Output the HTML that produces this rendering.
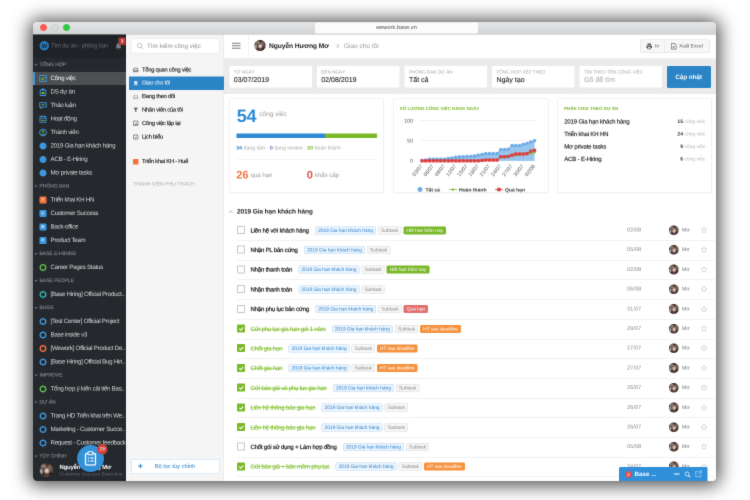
<!DOCTYPE html><html lang="vi"><head><meta charset="utf-8"><title>wework.base.vn</title><style>
*{box-sizing:border-box;margin:0;padding:0}
html,body{width:750px;height:500px;overflow:hidden;background:#fff}
#soft{position:absolute;left:-6px;top:-6px;width:762px;height:512px;background:#fff;filter:url(#softf)}
#pg{position:absolute;left:6px;top:6px;width:750px;height:500px}
body{font-family:"Liberation Sans",sans-serif;position:relative;text-rendering:geometricPrecision}
#win{will-change:transform;position:absolute;left:33.1px;top:21.85px;width:1366px;height:918px;transform:scale(.5);transform-origin:0 0;
 border-radius:8px;box-shadow:0 2px 36px 7px rgba(0,0,0,.7);background:#fff;}
#clip{position:absolute;left:0;top:0;width:1366px;height:918px;border-radius:8px;overflow:hidden;background:#fff}
.abs{position:absolute}
#tb{position:absolute;left:0;top:0;width:100%;height:25px;background:linear-gradient(#e4e5e6,#d3d4d5);border-bottom:1px solid #b8b8b8}
.tl{position:absolute;top:3.8px;width:14px;height:14px;border-radius:50%}
#url{position:absolute;left:564px;top:1px;width:326px;height:22px;background:#fbfbfb;border-radius:4px;font-size:11px;color:#444;text-align:center;line-height:21px;letter-spacing:.2px}
#sb{position:absolute;left:0;top:25px;width:186px;height:893px;background:#25292d;color:#dcddde;font-size:12.4px;letter-spacing:-.53px}
#sbh{position:absolute;left:0;top:0;width:186px;height:47px;background:#1f2226}
.sec{position:absolute;left:13px;height:27px;line-height:28.5px;font-size:10px;color:#858a8f;-webkit-text-stroke:.3px;letter-spacing:-.05px;white-space:nowrap}
.sec:before{content:"";position:absolute;left:-10px;top:12px;border:3px solid transparent;border-top:4px solid #72767a}
.it{position:absolute;left:0;width:186px;height:27px;line-height:27px;white-space:nowrap;overflow:hidden}
.it span{position:absolute;left:35px;top:0}
.it svg,.it i{position:absolute;left:11.5px;top:5.5px;width:16px;height:16px}
.it i.dot{border-radius:50%;background:#3c97e0;left:12.5px;top:6.5px;width:14.5px;height:14.5px}
.it i.ring{border-radius:50%;border:3px solid #3c97e0;left:12.5px;top:6.5px;width:14.5px;height:14.5px}
.it i.sq{border-radius:2px;left:12.5px;top:6.5px;width:14.5px;height:14.5px;font-style:normal;color:#fff;font-size:8px;font-weight:bold;text-align:center;line-height:14.5px;letter-spacing:0}
.it.act{background:linear-gradient(#25292d .7px,#4c5053 .7px);border-left:0}
.it.act:before{content:"";position:absolute;left:0;top:.7px;width:4px;height:26.3px;background:#3c97e0}
.it.act span{left:35px;color:#fff}
.it.act svg{left:11.5px}
#p2{position:absolute;left:186px;top:25px;width:196px;height:893px;background:#f5f5f5;border-right:1px solid #e4e4e4;font-size:11.5px;color:#222}
#srch{position:absolute;left:10px;top:8px;width:177px;height:30px;background:#fff;border:1px solid #e6e6e6;border-radius:3px;color:#909090;font-size:12.5px;line-height:28px;padding-left:31px;white-space:nowrap}
.m{position:absolute;left:6px;width:190px;height:26.5px;line-height:26px;white-space:nowrap;font-size:11.5px;letter-spacing:-.44px;-webkit-text-stroke:.3px;color:#222}
.m span{position:absolute;left:26px}
.m svg{position:absolute;left:7.5px;top:7.5px;width:11px;height:11px}
.m.act{background:#2b84c6;color:#f0f7fd;-webkit-text-stroke:.1px}
#main{position:absolute;left:382px;top:26px;width:985px;height:892px;background:#fff}
#mi{position:absolute;left:2px;top:0;width:983px;height:892px}
#mhbg{position:absolute;left:0;top:-1px;width:985px;height:49px;background:#fff;border-bottom:1px solid #e2e2e2}
#fbbg{position:absolute;left:0;top:48px;width:985px;height:70px;background:#ebebeb}
#mh{position:absolute;left:0;top:-2px;width:983px;height:48px}
#fb{position:absolute;left:0;top:48px;width:983px;height:70px}
.f{position:absolute;top:14px;height:43px;background:#fff;border-radius:2px}
.f b{position:absolute;left:9px;top:7px;font-size:9px;color:#a5a5a5;font-weight:normal;letter-spacing:.1px;white-space:nowrap}
.f u{position:absolute;left:9px;top:19px;font-size:14px;color:#222;text-decoration:none;white-space:nowrap;-webkit-text-stroke:.2px;letter-spacing:.05px}
.card{position:absolute;top:127px;height:189px;background:#fff;border:1px solid #e6e6e6;border-radius:3px;box-shadow:0 1px 2px rgba(0,0,0,.05)}
.g{color:#9a9a9a}
.ct{position:absolute;left:12px;top:14px;font-size:8.8px;font-weight:bold;color:#7ab829;white-space:nowrap;letter-spacing:.1px}
.pr{position:absolute;left:12.5px;font-size:12px;letter-spacing:-.3px;-webkit-text-stroke:.3px;color:#222;white-space:nowrap}
.pc{position:absolute;right:12px;font-size:10px;color:#b5b5b5;white-space:nowrap}
.pc b{color:#333}
.row{position:absolute;left:24px;width:955px;height:40.5px;border-bottom:1px solid #e4e4e4;white-space:nowrap}
.cb{position:absolute;left:0;width:16px;height:16px;border:2px solid #c6c6c6;border-radius:2px;background:#fff}
.cb.on{background:#7ab829;border-color:#7ab829}
.tt{position:absolute;left:27px;font-size:12px;color:#1c1c1c;letter-spacing:-.37px;-webkit-text-stroke:.45px;display:flex;align-items:center;height:39px;top:0}
.tt.done em{color:#85c235;text-decoration:line-through;font-style:normal;-webkit-text-stroke:.3px}
.tt em{font-style:normal;margin-right:12.5px}
.tag{display:inline-block;height:16px;line-height:15.5px;font-size:10px;letter-spacing:-.2px;-webkit-text-stroke:0;font-weight:normal;padding:0 5px;border-radius:3px;margin-right:4px}
.tag.p{background:#eaf4fd;color:#3585cc;border:1px solid #bcd9f3}
.tag.s{background:#f6f6f6;color:#8a8a8a;border:1px solid #dadada}
.tag.gr{background:#7ab829;color:#fff;border:1px solid #7ab829}
.tag.rd{background:#e0706e;color:#fff;border:1px solid #e0706e}
.tag.or{background:#f5923e;color:#fff;border:1px solid #f5923e}
.dt{position:absolute;left:780px;font-size:11px;color:#8a8a8a;line-height:39px;letter-spacing:.2px}
.av{position:absolute;border-radius:50%;overflow:hidden;background:#3b2b27}
.nm{position:absolute;left:890px;font-size:10.5px;color:#777;line-height:39px}
.st{position:absolute;left:926px;top:11px;width:16px;height:16px}
</style></head><body>
<svg width="0" height="0" style="position:absolute"><defs><filter id="softf" x="0" y="0" width="100%" height="100%" color-interpolation-filters="sRGB"><feConvolveMatrix order="3" kernelMatrix="1 8 1 8 64 8 1 8 1" divisor="100" edgeMode="duplicate" preserveAlpha="true"/></filter></defs></svg>
<svg width="0" height="0" style="position:absolute"><defs><filter id="avb" x="-20%" y="-20%" width="140%" height="140%"><feGaussianBlur stdDeviation="1"/></filter><symbol id="avs" viewBox="0 0 20 20"><rect width="20" height="20" fill="#332724"/><g filter="url(#avb)"><ellipse cx="6" cy="4.500" rx="4.500" ry="3" fill="#9a8272"/><ellipse cx="14.500" cy="5.500" rx="3.500" ry="3" fill="#80695b"/><ellipse cx="10.500" cy="3.500" rx="1.500" ry="2.500" fill="#2a201e"/><ellipse cx="2.500" cy="12" rx="1.800" ry="4" fill="#cfc2ba"/><ellipse cx="17" cy="10" rx="1.800" ry="3.500" fill="#7a6457"/><ellipse cx="6" cy="13" rx="2" ry="4.500" fill="#191312"/><ellipse cx="15" cy="14.500" rx="2" ry="3.500" fill="#191312"/><ellipse cx="10.500" cy="11.300" rx="3.200" ry="3.800" fill="#f2cfc6"/><ellipse cx="10.800" cy="14" rx="1.200" ry=".8" fill="#d97c7c"/><ellipse cx="10" cy="19.500" rx="6" ry="2.500" fill="#5d463c"/></g></symbol></defs></svg>
<div id="soft"><div id="pg">
<div id="win"><div id="clip">
<div id="tb"><div class="tl" style="left:13.5px;background:#fc5b57"></div><div class="tl" style="left:36.5px;background:#dadada;border:1.5px solid #bebebe"></div><div class="tl" style="left:59.5px;background:#2fc840"></div><div id="url">wework.base.vn</div></div>
<div id="sb"><div id="sbh">
<svg class="abs" style="left:13px;top:13px" width="19" height="19" viewBox="0 0 19 19"><circle cx="9.5" cy="9.5" r="9.5" fill="#2579b6"/><text x="9.5" y="13.6" font-family="Liberation Sans, sans-serif" font-size="11.5" font-weight="bold" text-anchor="middle" fill="#15202b">W</text></svg>
<div class="abs" style="left:36px;top:13px;font-size:12px;letter-spacing:-.4px;color:#6a6e73;line-height:19px;white-space:nowrap">Tìm dự án - phòng ban</div>
<svg class="abs" style="left:164px;top:16px" width="14" height="15" viewBox="0 0 14 15"><path d="M7 1.500c-2.600 0-4.200 2-4.200 4.500v3L1.300 11.500h11.400L11.200 9V6c0-2.500-1.600-4.500-4.200-4.500zM5.500 12.500a1.500 1.500 0 0 0 3 0z" fill="#7b7f84"/></svg>
<div class="abs" style="left:171px;top:5.5px;width:14px;height:15px;background:#b53a34;border-radius:2px;color:#fff;font-size:9px;font-weight:bold;text-align:center;line-height:14px">3</div>
</div>
<div class="sec" style="top:47.2px">TỔNG HỢP</div>
<div class="it act" style="top:74.2px"><svg viewBox="0 0 17 17"><rect x="1.500" y="2" width="14" height="13" rx="1.500" fill="none" stroke="#3c97e0" stroke-width="2"/><path d="M5 8.500l2.500 2.500 4.500-5" fill="none" stroke="#7ab829" stroke-width="2.300"/></svg><span>Công việc</span></div>
<div class="it" style="top:101.2px"><svg viewBox="0 0 17 17"><rect x="2.500" y="4" width="12" height="12" rx="2" fill="none" stroke="#3c97e0" stroke-width="2"/><rect x="5.500" y="1" width="6" height="4.500" rx="1.500" fill="#3c97e0"/><rect x="5.500" y="8.500" width="6" height="4.500" fill="#7ab829"/></svg><span>DS dự án</span></div>
<div class="it" style="top:128.2px"><svg viewBox="0 0 17 17"><path d="M1.500 2.500h14v9h-8l-3.500 3.500v-3.500h-2.500z" fill="none" stroke="#3c97e0" stroke-width="2" stroke-linejoin="round"/><path d="M5 7h7" stroke="#7ab829" stroke-width="2.200"/></svg><span>Thảo luận</span></div>
<div class="it" style="top:155.2px"><svg viewBox="0 0 17 17"><rect x="2" y="3.500" width="13" height="12" rx="1.500" fill="none" stroke="#3c97e0" stroke-width="2"/><path d="M5.500 1v4M11.500 1v4" stroke="#3c97e0" stroke-width="2.200"/><path d="M2 7h13" stroke="#3c97e0" stroke-width="1.500"/><path d="M5 11.500h7" stroke="#7ab829" stroke-width="2.400"/></svg><span>Hoạt động</span></div>
<div class="it" style="top:182.2px"><svg viewBox="0 0 17 17"><circle cx="8.500" cy="8.500" r="7" fill="none" stroke="#3c97e0" stroke-width="2.100"/><circle cx="8.500" cy="6.500" r="2.300" fill="#7ab829"/><path d="M4.500 13q4-5 8 0z" fill="#7ab829"/></svg><span>Thành viên</span></div>
<div class="it" style="top:209.2px"><i class="dot"></i><span>2019 Gia hạn khách hàng</span></div>
<div class="it" style="top:236.2px"><i class="dot"></i><span>ACB - E-Hiring</span></div>
<div class="it" style="top:263.2px"><i class="dot"></i><span>Mơ private tasks</span></div>
<div class="sec" style="top:290.2px">PHÒNG BAN</div>
<div class="it" style="top:317.2px"><i class="sq" style="background:#f4743b">T</i><span>Triển khai KH HN</span></div>
<div class="it" style="top:344.2px"><i class="sq" style="background:#3c97e0">C</i><span>Customer Success</span></div>
<div class="it" style="top:371.2px"><i class="sq" style="background:#3c97e0">B</i><span>Back-office</span></div>
<div class="it" style="top:398.2px"><i class="sq" style="background:#3c97e0">P</i><span>Product Team</span></div>
<div class="sec" style="top:425.2px">BASE E-HIRING</div>
<div class="it" style="top:452.2px"><i class="ring" style="border-color:#5cc04a"></i><span>Career Pages Status</span></div>
<div class="sec" style="top:479.2px">BASE PEOPLE</div>
<div class="it" style="top:506.2px"><i class="ring" style="border-color:#2fb5b0"></i><span>[Base Hiring] Official Product..</span></div>
<div class="sec" style="top:533.2px">BUGS</div>
<div class="it" style="top:560.2px"><i class="ring"></i><span>[Test Center] Official Project</span></div>
<div class="it" style="top:587.2px"><i class="ring"></i><span>Base inside v3</span></div>
<div class="it" style="top:614.2px"><i class="ring" style="border-color:#f4743b"></i><span>[Wework] Official Product De..</span></div>
<div class="it" style="top:641.2px"><i class="ring"></i><span>[Base Hiring] Official Bug Hiri..</span></div>
<div class="sec" style="top:668.2px">IMPROVE</div>
<div class="it" style="top:695.2px"><i class="ring" style="border-color:#5cc04a"></i><span>Tổng hợp ý kiến cải tiến Bas..</span></div>
<div class="sec" style="top:722.2px">DỰ ÁN</div>
<div class="it" style="top:749.2px"><i class="ring"></i><span>Trang HD Triển khai trên We..</span></div>
<div class="it" style="top:776.2px"><i class="ring"></i><span>Marketing - Customer Succe..</span></div>
<div class="it" style="top:803.2px"><i class="ring"></i><span>Request - Customer feedback</span></div>
<div class="sec" style="top:830.2px">TÙY CHỈNH</div>
<div class="av" style="left:13px;top:857px;width:28px;height:28px;"><svg viewBox="0 0 20 20" width="28" height="28"><use href="#avs"/></svg></div>
<div class="abs" style="left:53px;top:858px;font-size:12px;letter-spacing:-.45px;font-weight:bold;color:#fff;white-space:nowrap">Nguyễn Hương Mơ</div>
<div class="abs" style="left:53px;top:874px;font-size:9.7px;letter-spacing:0;color:#666a6f;white-space:nowrap">Customer Success Executive</div>
<div class="abs" style="left:88px;top:821px;width:54px;height:54px;border-radius:50%;background:#3391d8;box-shadow:0 1px 4px rgba(0,0,0,.4)"><svg class="abs" style="left:15px;top:12px" width="24" height="30" viewBox="0 0 24 30"><rect x="2" y="5" width="20" height="23" rx="2.500" fill="none" stroke="#fff" stroke-width="2.600"/><rect x="7" y="1.500" width="10" height="6" rx="1.500" fill="#2f8fd8" stroke="#fff" stroke-width="2.200"/><path d="M6.500 14h3M12 14h6M6.500 20h3M12 20h6" stroke="#fff" stroke-width="2.400"/></svg></div>
<div class="abs" style="left:128px;top:818.5px;width:21px;height:21px;border-radius:50%;background:#cf403d;color:#fad4d2;font-size:10px;font-weight:bold;letter-spacing:0;text-align:center;line-height:21px">29</div>
</div>
<div id="p2">
<div id="srch"><svg class="abs" style="left:10px;top:7px" width="14" height="14" viewBox="0 0 14 14"><circle cx="6" cy="6" r="4.300" fill="none" stroke="#aaa" stroke-width="1.300"/><path d="M9.200 9.200l3.300 3.300" stroke="#aaa" stroke-width="1.300"/></svg>Tìm kiếm công việc</div>
<div class="m" style="top:57.5px"><svg viewBox="0 0 12 12"><path d="M1 7l1.500-4.500h7L11 7v3.500H1z" fill="none" stroke="#555" stroke-width="1.300"/><path d="M1 7h3l.8 1.500h2.400L8 7h3" fill="none" stroke="#555" stroke-width="1.300"/></svg><span>Tổng quan công việc</span></div>
<div class="m act" style="top:84.3px"><svg viewBox="0 0 12 12"><path d="M2.500 1h7v10.500L6 8.500l-3.500 3z" fill="#cfe5f7"/></svg><span>Giao cho tôi</span></div>
<div class="m" style="top:111.1px"><svg viewBox="0 0 12 12"><path d="M1 7l1.500-4.500h7L11 7v3.500H1z" fill="none" stroke="#9a9a9a" stroke-width="1.200"/><path d="M1 7h10" stroke="#9a9a9a" stroke-width="1.200"/></svg><span>Đang theo dõi</span></div>
<div class="m" style="top:137.9px"><svg viewBox="0 0 12 12"><path d="M1 1.500h10L7.300 6v5l-2.600-1V6z" fill="#555"/></svg><span>Nhân viên của tôi</span></div>
<div class="m" style="top:164.70000000000002px"><svg viewBox="0 0 12 12"><rect x="1.200" y="1.200" width="9.600" height="9.600" fill="none" stroke="#555" stroke-width="1.300"/><path d="M3 9l2.500-3 1.500 1.500L9 5v4z" fill="#555"/></svg><span>Công việc lặp lại</span></div>
<div class="m" style="top:191.50000000000003px"><svg viewBox="0 0 12 12"><rect x="1.200" y="2.200" width="9.600" height="8.800" rx="1" fill="none" stroke="#555" stroke-width="1.300"/><path d="M3.500 .5v3M8.500 .5v3M4 7.500l1.500 1.500L8.500 6" fill="none" stroke="#555" stroke-width="1.100"/></svg><span>Lịch biểu</span></div>
<div class="m" style="top:241px"><i class="abs" style="left:8px;top:8px;width:10.500px;height:10.500px;background:#f4743b;border-radius:1px"></i><span>Triển khai KH - Huế</span></div>
<div class="abs" style="left:14px;top:294px;font-size:10px;color:#a9a9a9;letter-spacing:.1px;white-space:nowrap">THÀNH VIÊN PHỤ TRÁCH</div>
<div class="abs" style="left:9.5px;top:849px;width:178.5px;height:30px;background:#fff;border:1px solid #bcd6ed;border-radius:3px;color:#2b84c6;font-size:11.5px;line-height:28px;white-space:nowrap"><span class="abs" style="left:13px;top:-1px;font-size:18px;font-weight:bold">+</span><span class="abs" style="left:47px">Bộ lọc tùy chỉnh</span></div>
</div>
<div id="main"><div id="mhbg"></div><div id="fbbg"></div><div id="mi">
<div id="mh">
<svg class="abs" style="left:14px;top:17px" width="17" height="13" viewBox="0 0 17 13"><path d="M0 1.500h17M0 6.500h17M0 11.500h17" stroke="#7c7c7c" stroke-width="2"/></svg>
<div class="abs" style="left:47px;top:0;width:1px;height:48px;background:#e6e6e6"></div>
<div class="av" style="left:58.5px;top:12px;width:22px;height:22px;"><svg viewBox="0 0 20 20" width="22" height="22"><use href="#avs"/></svg></div>
<div class="abs" style="left:88px;top:14px;font-size:13.5px;letter-spacing:-.25px;font-weight:bold;color:#222;line-height:20px;white-space:nowrap">Nguyễn Hương Mơ</div>
<svg class="abs" style="left:222px;top:19px" width="7" height="10" viewBox="0 0 7 10"><path d="M1.500 1l4 4-4 4" fill="none" stroke="#aaa" stroke-width="1.400"/></svg>
<div class="abs" style="left:238px;top:14px;font-size:13px;color:#999;line-height:20px;white-space:nowrap">Giao cho tôi</div>
<div class="abs" style="left:830px;top:11px;width:140px;height:27px;border:1px solid #dedede;border-radius:3px;background:#f7f7f7"><div class="abs" style="left:48px;top:0;width:1px;height:25px;background:#dedede"></div><svg class="abs" style="left:11px;top:6px" width="13" height="13" viewBox="0 0 13 13"><path d="M3 1h7v3H3zM1 5h11v5h-2v2.500H3V10H1z" fill="#555"/><rect x="4.200" y="8" width="4.600" height="3.300" fill="#f7f7f7"/></svg><span class="abs" style="left:29px;top:0;font-size:10px;color:#555;line-height:25px">In</span><svg class="abs" style="left:61px;top:6px" width="11" height="13" viewBox="0 0 11 13"><path d="M1 .8h6l3.200 3.200v8.200H1z" fill="none" stroke="#555" stroke-width="1.200"/><path d="M3.500 6l3.500 4M7 6l-3.500 4" stroke="#555" stroke-width="1.100"/></svg><span class="abs" style="left:77px;top:0;font-size:10px;color:#555;line-height:25px;white-space:nowrap">Xuất Excel</span></div>
</div>
<div id="fb">
<div class="f" style="left:8.5px;width:165px"><b>TỪ NGÀY</b><u style="color:#222">03/07/2019</u></div>
<div class="f" style="left:183.5px;width:165px"><b>ĐẾN NGÀY</b><u style="color:#222">02/08/2019</u></div>
<div class="f" style="left:359px;width:165px"><b>PHÒNG BAN DỰ ÁN</b><u style="color:#222">Tất cả</u></div>
<div class="f" style="left:534px;width:165px"><b>TỔNG HỢP XẾP THEO</b><u style="color:#222">Ngày tạo</u></div>
<div class="f" style="left:709px;width:165px"><b>TÌM THEO TÊN CÔNG VIỆC</b><u style="color:#b0b0b0">Gõ để tìm</u></div>
<div class="abs" style="left:883.5px;top:14px;width:88px;height:44px;background:#2b84c6;border-radius:3px;color:#fff;font-size:12.5px;font-weight:bold;text-align:center;line-height:44px">Cập nhật</div>
</div>
<div class="card" style="left:8.5px;width:309px">
<div class="abs" style="left:14px;top:15.5px;font-size:36px;font-weight:bold;color:#2d8ad3;line-height:36px;letter-spacing:-.5px">54</div>
<div class="abs g" style="left:59px;top:22px;font-size:13px;white-space:nowrap">công việc</div>
<div class="abs" style="left:13px;top:69px;width:281px;height:9px;background:#7ab829"><div style="width:177px;height:9px;background:#2d8ad3"></div></div>
<div class="abs g" style="left:13px;top:91.5px;font-size:10.5px;white-space:nowrap;color:#a8a8a8"><b style="color:#2b84c6">34</b> đang làm · <b style="color:#8e5bb5">0</b> đang review · <b style="color:#7ab829">20</b> hoàn thành</div>
<div class="abs" style="left:13px;top:120px;width:282px;height:1px;background:#ececec"></div>
<div class="abs" style="left:13px;top:140px;font-size:22px;font-weight:bold;color:#f4743b;line-height:24px">26</div>
<div class="abs g" style="left:42px;top:145px;font-size:12px;white-space:nowrap">quá hạn</div>
<div class="abs" style="left:154px;top:140px;font-size:22px;font-weight:bold;color:#d9534f;line-height:24px">0</div>
<div class="abs g" style="left:170px;top:145px;font-size:12px;white-space:nowrap">khẩn cấp</div>
</div>
<div class="card" style="left:336.500px;width:310px">
<div class="ct">SỐ LƯỢNG CÔNG VIỆC HÀNG NGÀY</div>
<svg class="abs" style="left:0;top:0" width="310" height="189" viewBox="0 0 310 189" font-family="Liberation Sans, sans-serif"><path d="M52 123.7H286" stroke="#e8e8e8" stroke-width="1"/><text x="38" y="127.2" font-size="10.500" fill="#555" text-anchor="end">0</text><path d="M52 83.4H286" stroke="#e8e8e8" stroke-width="1"/><text x="38" y="86.9" font-size="10.500" fill="#555" text-anchor="end">50</text><path d="M52 43.1H286" stroke="#e8e8e8" stroke-width="1"/><text x="38" y="46.6" font-size="10.500" fill="#555" text-anchor="end">100</text><polygon points="56.0,123.7 56.0,122.9 63.5,122.1 71.0,120.5 78.5,120.5 86.0,120.5 93.5,120.5 101.0,120.5 108.5,118.9 116.0,118.1 123.5,116.4 131.0,115.6 138.5,115.6 146.0,114.8 153.5,114.8 161.0,114.0 168.5,112.4 176.0,110.8 183.5,109.2 191.0,109.2 198.5,109.2 206.0,109.2 213.5,101.1 221.0,101.1 228.5,100.3 236.0,93.1 243.5,93.1 251.0,93.1 258.5,90.7 266.0,89.0 273.5,85.8 281.0,83.4 281.0,123.7" fill="#98c5ee"/><polyline points="56.0,122.9 63.5,122.1 71.0,120.5 78.5,120.5 86.0,120.5 93.5,120.5 101.0,120.5 108.5,118.9 116.0,118.1 123.5,116.4 131.0,115.6 138.5,115.6 146.0,114.8 153.5,114.8 161.0,114.0 168.5,112.4 176.0,110.8 183.5,109.2 191.0,109.2 198.5,109.2 206.0,109.2 213.5,101.1 221.0,101.1 228.5,100.3 236.0,93.1 243.5,93.1 251.0,93.1 258.5,90.7 266.0,89.0 273.5,85.8 281.0,83.4" fill="none" stroke="#6fabe6" stroke-width="1.500"/><circle cx="56.0" cy="122.9" r="3.400" fill="#6fabe6"/><circle cx="63.5" cy="122.1" r="3.400" fill="#6fabe6"/><circle cx="71.0" cy="120.5" r="3.400" fill="#6fabe6"/><circle cx="78.5" cy="120.5" r="3.400" fill="#6fabe6"/><circle cx="86.0" cy="120.5" r="3.400" fill="#6fabe6"/><circle cx="93.5" cy="120.5" r="3.400" fill="#6fabe6"/><circle cx="101.0" cy="120.5" r="3.400" fill="#6fabe6"/><circle cx="108.5" cy="118.9" r="3.400" fill="#6fabe6"/><circle cx="116.0" cy="118.1" r="3.400" fill="#6fabe6"/><circle cx="123.5" cy="116.4" r="3.400" fill="#6fabe6"/><circle cx="131.0" cy="115.6" r="3.400" fill="#6fabe6"/><circle cx="138.5" cy="115.6" r="3.400" fill="#6fabe6"/><circle cx="146.0" cy="114.8" r="3.400" fill="#6fabe6"/><circle cx="153.5" cy="114.8" r="3.400" fill="#6fabe6"/><circle cx="161.0" cy="114.0" r="3.400" fill="#6fabe6"/><circle cx="168.5" cy="112.4" r="3.400" fill="#6fabe6"/><circle cx="176.0" cy="110.8" r="3.400" fill="#6fabe6"/><circle cx="183.5" cy="109.2" r="3.400" fill="#6fabe6"/><circle cx="191.0" cy="109.2" r="3.400" fill="#6fabe6"/><circle cx="198.5" cy="109.2" r="3.400" fill="#6fabe6"/><circle cx="206.0" cy="109.2" r="3.400" fill="#6fabe6"/><circle cx="213.5" cy="101.1" r="3.400" fill="#6fabe6"/><circle cx="221.0" cy="101.1" r="3.400" fill="#6fabe6"/><circle cx="228.5" cy="100.3" r="3.400" fill="#6fabe6"/><circle cx="236.0" cy="93.1" r="3.400" fill="#6fabe6"/><circle cx="243.5" cy="93.1" r="3.400" fill="#6fabe6"/><circle cx="251.0" cy="93.1" r="3.400" fill="#6fabe6"/><circle cx="258.5" cy="90.7" r="3.400" fill="#6fabe6"/><circle cx="266.0" cy="89.0" r="3.400" fill="#6fabe6"/><circle cx="273.5" cy="85.8" r="3.400" fill="#6fabe6"/><circle cx="281.0" cy="83.4" r="3.400" fill="#6fabe6"/><polyline points="56.0,123.7 63.5,123.7 71.0,123.7 78.5,123.7 86.0,123.7 93.5,123.7 101.0,123.7 108.5,123.7 116.0,123.7 123.5,123.7 131.0,123.7 138.5,123.7 146.0,123.7 153.5,123.7 161.0,123.7 168.5,123.7 176.0,122.9 183.5,122.1 191.0,122.1 198.5,122.1 206.0,122.1 213.5,116.4 221.0,116.4 228.5,115.6 236.0,114.0 243.5,112.4 251.0,111.6 258.5,110.8 266.0,110.0 273.5,108.4 281.0,106.8" fill="none" stroke="#7ab829" stroke-width="1.500"/><path d="M53.0 123.7l3-3 3 3-3 3z" fill="#7ab829"/><path d="M60.5 123.7l3-3 3 3-3 3z" fill="#7ab829"/><path d="M68.0 123.7l3-3 3 3-3 3z" fill="#7ab829"/><path d="M75.5 123.7l3-3 3 3-3 3z" fill="#7ab829"/><path d="M83.0 123.7l3-3 3 3-3 3z" fill="#7ab829"/><path d="M90.5 123.7l3-3 3 3-3 3z" fill="#7ab829"/><path d="M98.0 123.7l3-3 3 3-3 3z" fill="#7ab829"/><path d="M105.5 123.7l3-3 3 3-3 3z" fill="#7ab829"/><path d="M113.0 123.7l3-3 3 3-3 3z" fill="#7ab829"/><path d="M120.5 123.7l3-3 3 3-3 3z" fill="#7ab829"/><path d="M128.0 123.7l3-3 3 3-3 3z" fill="#7ab829"/><path d="M135.5 123.7l3-3 3 3-3 3z" fill="#7ab829"/><path d="M143.0 123.7l3-3 3 3-3 3z" fill="#7ab829"/><path d="M150.5 123.7l3-3 3 3-3 3z" fill="#7ab829"/><path d="M158.0 123.7l3-3 3 3-3 3z" fill="#7ab829"/><path d="M165.5 123.7l3-3 3 3-3 3z" fill="#7ab829"/><path d="M173.0 122.9l3-3 3 3-3 3z" fill="#7ab829"/><path d="M180.5 122.1l3-3 3 3-3 3z" fill="#7ab829"/><path d="M188.0 122.1l3-3 3 3-3 3z" fill="#7ab829"/><path d="M195.5 122.1l3-3 3 3-3 3z" fill="#7ab829"/><path d="M203.0 122.1l3-3 3 3-3 3z" fill="#7ab829"/><path d="M210.5 116.4l3-3 3 3-3 3z" fill="#7ab829"/><path d="M218.0 116.4l3-3 3 3-3 3z" fill="#7ab829"/><path d="M225.5 115.6l3-3 3 3-3 3z" fill="#7ab829"/><path d="M233.0 114.0l3-3 3 3-3 3z" fill="#7ab829"/><path d="M240.5 112.4l3-3 3 3-3 3z" fill="#7ab829"/><path d="M248.0 111.6l3-3 3 3-3 3z" fill="#7ab829"/><path d="M255.5 110.8l3-3 3 3-3 3z" fill="#7ab829"/><path d="M263.0 110.0l3-3 3 3-3 3z" fill="#7ab829"/><path d="M270.5 108.4l3-3 3 3-3 3z" fill="#7ab829"/><path d="M278.0 106.8l3-3 3 3-3 3z" fill="#7ab829"/><polyline points="56.0,123.7 63.5,123.7 71.0,123.7 78.5,123.7 86.0,123.7 93.5,123.7 101.0,123.7 108.5,123.7 116.0,123.7 123.5,123.7 131.0,123.7 138.5,123.7 146.0,123.7 153.5,123.7 161.0,123.7 168.5,123.7 176.0,122.9 183.5,122.1 191.0,122.1 198.5,122.1 206.0,122.1 213.5,115.6 221.0,115.6 228.5,114.8 236.0,112.4 243.5,110.0 251.0,110.0 258.5,110.0 266.0,109.2 273.5,104.4 281.0,102.7" fill="none" stroke="#dc3d3d" stroke-width="1.500"/><rect x="52.8" y="120.5" width="6.400" height="6.400" fill="#dc3d3d"/><rect x="60.3" y="120.5" width="6.400" height="6.400" fill="#dc3d3d"/><rect x="67.8" y="120.5" width="6.400" height="6.400" fill="#dc3d3d"/><rect x="75.3" y="120.5" width="6.400" height="6.400" fill="#dc3d3d"/><rect x="82.8" y="120.5" width="6.400" height="6.400" fill="#dc3d3d"/><rect x="90.3" y="120.5" width="6.400" height="6.400" fill="#dc3d3d"/><rect x="97.8" y="120.5" width="6.400" height="6.400" fill="#dc3d3d"/><rect x="105.3" y="120.5" width="6.400" height="6.400" fill="#dc3d3d"/><rect x="112.8" y="120.5" width="6.400" height="6.400" fill="#dc3d3d"/><rect x="120.3" y="120.5" width="6.400" height="6.400" fill="#dc3d3d"/><rect x="127.8" y="120.5" width="6.400" height="6.400" fill="#dc3d3d"/><rect x="135.3" y="120.5" width="6.400" height="6.400" fill="#dc3d3d"/><rect x="142.8" y="120.5" width="6.400" height="6.400" fill="#dc3d3d"/><rect x="150.3" y="120.5" width="6.400" height="6.400" fill="#dc3d3d"/><rect x="157.8" y="120.5" width="6.400" height="6.400" fill="#dc3d3d"/><rect x="165.3" y="120.5" width="6.400" height="6.400" fill="#dc3d3d"/><rect x="172.8" y="119.7" width="6.400" height="6.400" fill="#dc3d3d"/><rect x="180.3" y="118.9" width="6.400" height="6.400" fill="#dc3d3d"/><rect x="187.8" y="118.9" width="6.400" height="6.400" fill="#dc3d3d"/><rect x="195.3" y="118.9" width="6.400" height="6.400" fill="#dc3d3d"/><rect x="202.8" y="118.9" width="6.400" height="6.400" fill="#dc3d3d"/><rect x="210.3" y="112.4" width="6.400" height="6.400" fill="#dc3d3d"/><rect x="217.8" y="112.4" width="6.400" height="6.400" fill="#dc3d3d"/><rect x="225.3" y="111.6" width="6.400" height="6.400" fill="#dc3d3d"/><rect x="232.8" y="109.2" width="6.400" height="6.400" fill="#dc3d3d"/><rect x="240.3" y="106.8" width="6.400" height="6.400" fill="#dc3d3d"/><rect x="247.8" y="106.8" width="6.400" height="6.400" fill="#dc3d3d"/><rect x="255.3" y="106.8" width="6.400" height="6.400" fill="#dc3d3d"/><rect x="262.8" y="106.0" width="6.400" height="6.400" fill="#dc3d3d"/><rect x="270.3" y="101.2" width="6.400" height="6.400" fill="#dc3d3d"/><rect x="277.8" y="99.5" width="6.400" height="6.400" fill="#dc3d3d"/><text transform="translate(57.5,134.7) rotate(-52)" font-size="10.500" fill="#555" text-anchor="end">03/07</text><text transform="translate(80.0,134.7) rotate(-52)" font-size="10.500" fill="#555" text-anchor="end">06/07</text><text transform="translate(102.5,134.7) rotate(-52)" font-size="10.500" fill="#555" text-anchor="end">09/07</text><text transform="translate(125.0,134.7) rotate(-52)" font-size="10.500" fill="#555" text-anchor="end">12/07</text><text transform="translate(147.5,134.7) rotate(-52)" font-size="10.500" fill="#555" text-anchor="end">15/07</text><text transform="translate(170.0,134.7) rotate(-52)" font-size="10.500" fill="#555" text-anchor="end">18/07</text><text transform="translate(192.5,134.7) rotate(-52)" font-size="10.500" fill="#555" text-anchor="end">21/07</text><text transform="translate(215.0,134.7) rotate(-52)" font-size="10.500" fill="#555" text-anchor="end">24/07</text><text transform="translate(237.5,134.7) rotate(-52)" font-size="10.500" fill="#555" text-anchor="end">27/07</text><text transform="translate(260.0,134.7) rotate(-52)" font-size="10.500" fill="#555" text-anchor="end">30/07</text><text transform="translate(282.5,134.7) rotate(-52)" font-size="10.500" fill="#555" text-anchor="end">02/08</text><circle cx="52" cy="181" r="5" fill="#6fabe6"/><text x="63" y="184.500" font-size="10" font-weight="bold" fill="#333">Tất cả</text><path d="M110 181h16" stroke="#7ab829" stroke-width="1.500"/><path d="M115 181l3-3 3 3-3 3z" fill="#7ab829"/><text x="130" y="184.500" font-size="10" font-weight="bold" fill="#333">Hoàn thành</text><path d="M202 181h16" stroke="#dc3d3d" stroke-width="1.500"/><rect x="206.500" y="177.500" width="7" height="7" fill="#dc3d3d"/><text x="222" y="184.500" font-size="10" font-weight="bold" fill="#333">Quá hạn</text></svg>
</div>
<div class="card" style="left:665px;width:309px">
<div class="ct">PHÂN CHIA THEO DỰ ÁN</div>
<div class="pr" style="top:38px">2019 Gia hạn khách hàng</div><div class="pc" style="top:40px"><b>15</b> công việc</div>
<div class="pr" style="top:63.1px">Triển khai KH HN</div><div class="pc" style="top:65.1px"><b>24</b> công việc</div>
<div class="pr" style="top:88.2px">Mơ private tasks</div><div class="pc" style="top:90.2px"><b>9</b> công việc</div>
<div class="pr" style="top:113.30000000000001px">ACB - E-Hiring</div><div class="pc" style="top:115.30000000000001px"><b>6</b> công việc</div>
</div>
<svg class="abs" style="left:7px;top:350px" width="9" height="7" viewBox="0 0 9 7"><path d="M1 5.500l3.500-3.500 3.500 3.500" fill="none" stroke="#aaa" stroke-width="1.300"/></svg>
<div class="abs" style="left:24px;top:344px;font-size:13px;letter-spacing:-.2px;font-weight:bold;color:#222;white-space:nowrap;line-height:18px">2019 Gia hạn khách hàng</div>
<div class="row" style="top:371.0px"><div class="cb" style="top:11px"></div><div class="tt"><em>Liên hệ với khách hàng</em><span class="tag p">2019 Gia hạn khách hàng</span><span class="tag s">Subtask</span><span class="tag gr">Hết hạn hôm nay</span></div><div class="dt">02/08</div><div class="av" style="left:863.5px;top:9.5px;width:19.5px;height:19.5px;"><svg viewBox="0 0 20 20" width="19.5" height="19.5"><use href="#avs"/></svg></div><div class="nm">Mơ</div><svg class="st" viewBox="0 0 24 24"><path d="M12 3.5l2.6 5.6 6 .8-4.4 4.2 1.1 6-5.3-3-5.3 3 1.1-6L3.400 9.900l6-.8z" fill="none" stroke="#c8c8c8" stroke-width="1.6" stroke-linejoin="round"/></svg></div>
<div class="row" style="top:410.4px"><div class="cb" style="top:11px"></div><div class="tt"><em>Nhận PL bản cứng</em><span class="tag p">2019 Gia hạn khách hàng</span><span class="tag s">Subtask</span></div><div class="dt">05/08</div><div class="av" style="left:863.5px;top:9.5px;width:19.5px;height:19.5px;"><svg viewBox="0 0 20 20" width="19.5" height="19.5"><use href="#avs"/></svg></div><div class="nm">Mơ</div><svg class="st" viewBox="0 0 24 24"><path d="M12 3.5l2.6 5.6 6 .8-4.4 4.2 1.1 6-5.3-3-5.3 3 1.1-6L3.400 9.900l6-.8z" fill="none" stroke="#c8c8c8" stroke-width="1.6" stroke-linejoin="round"/></svg></div>
<div class="row" style="top:449.8px"><div class="cb" style="top:11px"></div><div class="tt"><em>Nhận thanh toán</em><span class="tag p">2019 Gia hạn khách hàng</span><span class="tag s">Subtask</span><span class="tag gr">Hết hạn hôm nay</span></div><div class="dt">02/08</div><div class="av" style="left:863.5px;top:9.5px;width:19.5px;height:19.5px;"><svg viewBox="0 0 20 20" width="19.5" height="19.5"><use href="#avs"/></svg></div><div class="nm">Mơ</div><svg class="st" viewBox="0 0 24 24"><path d="M12 3.5l2.6 5.6 6 .8-4.4 4.2 1.1 6-5.3-3-5.3 3 1.1-6L3.400 9.900l6-.8z" fill="none" stroke="#c8c8c8" stroke-width="1.6" stroke-linejoin="round"/></svg></div>
<div class="row" style="top:489.2px"><div class="cb" style="top:11px"></div><div class="tt"><em>Nhận thanh toán</em><span class="tag p">2019 Gia hạn khách hàng</span><span class="tag s">Subtask</span></div><div class="dt">06/08</div><div class="av" style="left:863.5px;top:9.5px;width:19.5px;height:19.5px;"><svg viewBox="0 0 20 20" width="19.5" height="19.5"><use href="#avs"/></svg></div><div class="nm">Mơ</div><svg class="st" viewBox="0 0 24 24"><path d="M12 3.5l2.6 5.6 6 .8-4.4 4.2 1.1 6-5.3-3-5.3 3 1.1-6L3.400 9.900l6-.8z" fill="none" stroke="#c8c8c8" stroke-width="1.6" stroke-linejoin="round"/></svg></div>
<div class="row" style="top:528.6px"><div class="cb" style="top:11px"></div><div class="tt"><em>Nhận phụ lục bản cứng</em><span class="tag p">2019 Gia hạn khách hàng</span><span class="tag s">Subtask</span><span class="tag rd">Quá hạn</span></div><div class="dt">31/07</div><div class="av" style="left:863.5px;top:9.5px;width:19.5px;height:19.5px;"><svg viewBox="0 0 20 20" width="19.5" height="19.5"><use href="#avs"/></svg></div><div class="nm">Mơ</div><svg class="st" viewBox="0 0 24 24"><path d="M12 3.5l2.6 5.6 6 .8-4.4 4.2 1.1 6-5.3-3-5.3 3 1.1-6L3.400 9.900l6-.8z" fill="none" stroke="#c8c8c8" stroke-width="1.6" stroke-linejoin="round"/></svg></div>
<div class="row" style="top:568.0px"><div class="cb on" style="top:11px"><svg width="13" height="13" viewBox="0 0 13 13" style="position:absolute;left:0;top:0"><path d="M2.500 6.500l3 3 5-5.500" fill="none" stroke="#fff" stroke-width="2"/></svg></div><div class="tt done"><em>Gửi phụ lục gia hạn gói 1 năm</em><span class="tag p">2019 Gia hạn khách hàng</span><span class="tag s">Subtask</span><span class="tag or">HT sau deadline</span></div><div class="dt">29/07</div><div class="av" style="left:863.5px;top:9.5px;width:19.5px;height:19.5px;"><svg viewBox="0 0 20 20" width="19.5" height="19.5"><use href="#avs"/></svg></div><div class="nm">Mơ</div><svg class="st" viewBox="0 0 24 24"><path d="M12 3.5l2.6 5.6 6 .8-4.4 4.2 1.1 6-5.3-3-5.3 3 1.1-6L3.400 9.900l6-.8z" fill="none" stroke="#c8c8c8" stroke-width="1.6" stroke-linejoin="round"/></svg></div>
<div class="row" style="top:607.4px"><div class="cb on" style="top:11px"><svg width="13" height="13" viewBox="0 0 13 13" style="position:absolute;left:0;top:0"><path d="M2.500 6.500l3 3 5-5.500" fill="none" stroke="#fff" stroke-width="2"/></svg></div><div class="tt done"><em>Chốt gia hạn</em><span class="tag p">2019 Gia hạn khách hàng</span><span class="tag s">Subtask</span><span class="tag or">HT sau deadline</span></div><div class="dt">27/07</div><div class="av" style="left:863.5px;top:9.5px;width:19.5px;height:19.5px;"><svg viewBox="0 0 20 20" width="19.5" height="19.5"><use href="#avs"/></svg></div><div class="nm">Mơ</div><svg class="st" viewBox="0 0 24 24"><path d="M12 3.5l2.6 5.6 6 .8-4.4 4.2 1.1 6-5.3-3-5.3 3 1.1-6L3.400 9.900l6-.8z" fill="none" stroke="#c8c8c8" stroke-width="1.6" stroke-linejoin="round"/></svg></div>
<div class="row" style="top:646.8px"><div class="cb on" style="top:11px"><svg width="13" height="13" viewBox="0 0 13 13" style="position:absolute;left:0;top:0"><path d="M2.500 6.500l3 3 5-5.500" fill="none" stroke="#fff" stroke-width="2"/></svg></div><div class="tt done"><em>Chốt gia hạn</em><span class="tag p">2019 Gia hạn khách hàng</span><span class="tag s">Subtask</span><span class="tag or">HT sau deadline</span></div><div class="dt">27/07</div><div class="av" style="left:863.5px;top:9.5px;width:19.5px;height:19.5px;"><svg viewBox="0 0 20 20" width="19.5" height="19.5"><use href="#avs"/></svg></div><div class="nm">Mơ</div><svg class="st" viewBox="0 0 24 24"><path d="M12 3.5l2.6 5.6 6 .8-4.4 4.2 1.1 6-5.3-3-5.3 3 1.1-6L3.400 9.900l6-.8z" fill="none" stroke="#c8c8c8" stroke-width="1.6" stroke-linejoin="round"/></svg></div>
<div class="row" style="top:686.2px"><div class="cb on" style="top:11px"><svg width="13" height="13" viewBox="0 0 13 13" style="position:absolute;left:0;top:0"><path d="M2.500 6.500l3 3 5-5.500" fill="none" stroke="#fff" stroke-width="2"/></svg></div><div class="tt done"><em>Gửi báo giá và phụ lục gia hạn</em><span class="tag p">2019 Gia hạn khách hàng</span><span class="tag s">Subtask</span></div><div class="dt">26/07</div><div class="av" style="left:863.5px;top:9.5px;width:19.5px;height:19.5px;"><svg viewBox="0 0 20 20" width="19.5" height="19.5"><use href="#avs"/></svg></div><div class="nm">Mơ</div><svg class="st" viewBox="0 0 24 24"><path d="M12 3.5l2.6 5.6 6 .8-4.4 4.2 1.1 6-5.3-3-5.3 3 1.1-6L3.400 9.900l6-.8z" fill="none" stroke="#c8c8c8" stroke-width="1.6" stroke-linejoin="round"/></svg></div>
<div class="row" style="top:725.6px"><div class="cb on" style="top:11px"><svg width="13" height="13" viewBox="0 0 13 13" style="position:absolute;left:0;top:0"><path d="M2.500 6.500l3 3 5-5.500" fill="none" stroke="#fff" stroke-width="2"/></svg></div><div class="tt done"><em>Liên hệ thông báo gia hạn</em><span class="tag p">2019 Gia hạn khách hàng</span><span class="tag s">Subtask</span></div><div class="dt">26/07</div><div class="av" style="left:863.5px;top:9.5px;width:19.5px;height:19.5px;"><svg viewBox="0 0 20 20" width="19.5" height="19.5"><use href="#avs"/></svg></div><div class="nm">Mơ</div><svg class="st" viewBox="0 0 24 24"><path d="M12 3.5l2.6 5.6 6 .8-4.4 4.2 1.1 6-5.3-3-5.3 3 1.1-6L3.400 9.900l6-.8z" fill="none" stroke="#c8c8c8" stroke-width="1.6" stroke-linejoin="round"/></svg></div>
<div class="row" style="top:765.0px"><div class="cb on" style="top:11px"><svg width="13" height="13" viewBox="0 0 13 13" style="position:absolute;left:0;top:0"><path d="M2.500 6.500l3 3 5-5.500" fill="none" stroke="#fff" stroke-width="2"/></svg></div><div class="tt done"><em>Liên hệ thông báo gia hạn</em><span class="tag p">2019 Gia hạn khách hàng</span><span class="tag s">Subtask</span></div><div class="dt">26/07</div><div class="av" style="left:863.5px;top:9.5px;width:19.5px;height:19.5px;"><svg viewBox="0 0 20 20" width="19.5" height="19.5"><use href="#avs"/></svg></div><div class="nm">Mơ</div><svg class="st" viewBox="0 0 24 24"><path d="M12 3.5l2.6 5.6 6 .8-4.4 4.2 1.1 6-5.3-3-5.3 3 1.1-6L3.400 9.900l6-.8z" fill="none" stroke="#c8c8c8" stroke-width="1.6" stroke-linejoin="round"/></svg></div>
<div class="row" style="top:804.4px"><div class="cb" style="top:11px"></div><div class="tt"><em>Chốt gói sử dụng + Làm hợp đồng</em><span class="tag p">2019 Gia hạn khách hàng</span><span class="tag s">Subtask</span></div><div class="dt">05/08</div><div class="av" style="left:863.5px;top:9.5px;width:19.5px;height:19.5px;"><svg viewBox="0 0 20 20" width="19.5" height="19.5"><use href="#avs"/></svg></div><div class="nm">Mơ</div><svg class="st" viewBox="0 0 24 24"><path d="M12 3.5l2.6 5.6 6 .8-4.4 4.2 1.1 6-5.3-3-5.3 3 1.1-6L3.400 9.900l6-.8z" fill="none" stroke="#c8c8c8" stroke-width="1.6" stroke-linejoin="round"/></svg></div>
<div class="row" style="top:843.8px"><div class="cb on" style="top:11px"><svg width="13" height="13" viewBox="0 0 13 13" style="position:absolute;left:0;top:0"><path d="M2.500 6.500l3 3 5-5.500" fill="none" stroke="#fff" stroke-width="2"/></svg></div><div class="tt done"><em>Gửi báo giá + bản mềm phụ lục</em><span class="tag p">2019 Gia hạn khách hàng</span><span class="tag s">Subtask</span><span class="tag or">HT sau deadline</span></div><div class="dt">24/07</div><div class="av" style="left:863.5px;top:9.5px;width:19.5px;height:19.5px;"><svg viewBox="0 0 20 20" width="19.5" height="19.5"><use href="#avs"/></svg></div><div class="nm">Mơ</div><svg class="st" viewBox="0 0 24 24"><path d="M12 3.5l2.6 5.6 6 .8-4.4 4.2 1.1 6-5.3-3-5.3 3 1.1-6L3.400 9.900l6-.8z" fill="none" stroke="#c8c8c8" stroke-width="1.6" stroke-linejoin="round"/></svg></div>
<div class="abs" style="left:788px;top:864px;width:177px;height:30px;background:#2f8fd8;border-radius:3px 3px 0 0;color:#fff"><div class="abs" style="left:12px;top:8px;width:14px;height:14px;border-radius:50%;background:#e0514d;font-size:9px;text-align:center;line-height:14px">2</div><div class="abs" style="left:31px;top:0;font-size:12.5px;font-weight:bold;line-height:29px;white-space:nowrap">Base ...</div><div class="abs" style="left:110px;top:13px;width:11px;height:2px;background:#fff"></div><svg class="abs" style="left:130px;top:8px" width="14" height="14" viewBox="0 0 14 14"><circle cx="6" cy="6" r="4" fill="none" stroke="#e8f3fc" stroke-width="1.400"/><path d="M9 9l3.500 3.500" stroke="#fff" stroke-width="1.800"/></svg><svg class="abs" style="left:152px;top:7px" width="14" height="14" viewBox="0 0 13 13"><path d="M6 2H1.500v9.500H11V7" fill="none" stroke="#9fd0f5" stroke-width="1.400"/><path d="M6 7l5.500-5.500M8 1h4v4" fill="none" stroke="#9fd0f5" stroke-width="1.400"/></svg></div>
</div></div>
</div></div></div></div></body></html>
